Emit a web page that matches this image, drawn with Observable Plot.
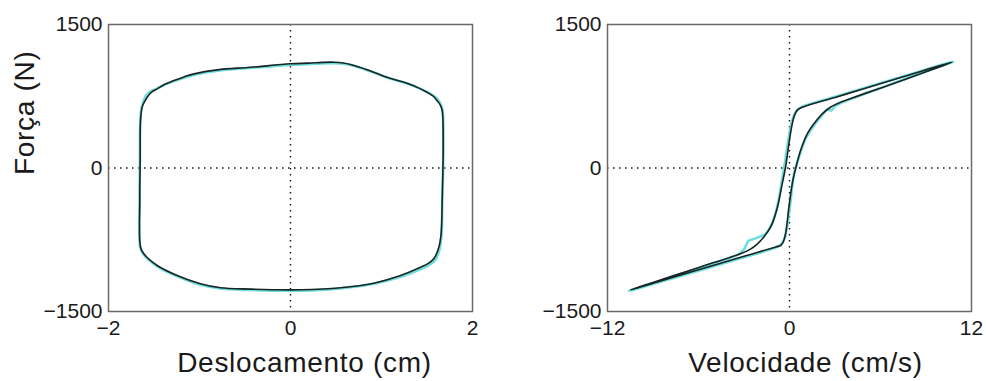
<!DOCTYPE html>
<html><head><meta charset="utf-8">
<script src="https://cdn.jsdelivr.net/npm/d3@7"></script>
<script src="https://cdn.jsdelivr.net/npm/@observablehq/plot@0.6"></script>
<style>
body{margin:0;background:#fff}
#wrap{display:flex;width:986px;height:381px}
</style>
</head><body><div id="wrap"></div>
<script>
// Tick labels and axis labels
const dispTicks = [-2, 0, 2];
const velTicks = [-12, 0, 12];
const forceTicks = [-1500, 0, 1500];
const dispLabel = "Deslocamento (cm)";
const velLabel = "Velocidade (cm/s)";
const forceLabel = "Força (N)";

// Left panel: force vs displacement (model, black)
const dispModel = [-1.656, -1.652, -1.648, -1.63, -1.60, -1.575, -1.53, -1.465, -1.38, -1.28, -1.17, -1.06, -0.806, -0.44, 0, 0.2, 0.35, 0.476, 0.58, 0.66, 0.75, 0.84, 0.95, 1.06, 1.17, 1.28, 1.40, 1.50, 1.57, 1.61, 1.645, 1.667, 1.678, 1.675, 1.667, 1.655, 1.63, 1.575, 1.51, 1.43, 1.21, 0.915, 0.55, 0.11, -0.2, -0.44, -0.77, -0.99, -1.245, -1.465, -1.612, -1.648];
const forceDispModel = [-340, 78, 500, 636, 700, 740, 790, 827, 875, 914, 952, 984, 1026, 1053, 1089, 1096, 1104, 1106, 1098, 1082, 1055, 1026, 988, 949, 917, 886, 840, 792, 750, 705, 660, 601, 287, -20, -340, -688, -828, -949, -1000, -1037, -1124, -1204, -1252, -1273, -1272, -1266, -1252, -1210, -1124, -1019, -897, -828];
// Left panel: measured (cyan)
const dispMeas = [-1.66, -1.655, -1.65, -1.635, -1.61, -1.585, -1.54, -1.47, -1.38, -1.28, -1.17, -1.05, -0.8, -0.44, 0, 0.2, 0.35, 0.48, 0.58, 0.66, 0.76, 0.85, 0.96, 1.07, 1.18, 1.29, 1.41, 1.52, 1.59, 1.63, 1.655, 1.672, 1.68, 1.676, 1.668, 1.66, 1.64, 1.59, 1.52, 1.44, 1.22, 0.92, 0.55, 0.11, -0.2, -0.44, -0.77, -1.0, -1.25, -1.47, -1.615, -1.65];
const forceDispMeas = [-340, 78, 500, 640, 712, 760, 800, 830, 872, 908, 944, 975, 1016, 1045, 1078, 1086, 1094, 1096, 1090, 1076, 1050, 1020, 982, 944, 912, 880, 835, 785, 742, 700, 655, 600, 287, -20, -340, -690, -840, -965, -1015, -1055, -1135, -1210, -1258, -1282, -1282, -1276, -1260, -1218, -1130, -1025, -905, -835];

// Right panel: force vs velocity (model, black)
const velModel = [10.72, 9, 7, 5, 3.9, 3.36, 3.0, 2.7, 2.16, 1.61, 1.17, 0.73, 0.4, 0.18, -0.04, -0.26, -0.42, -0.59, -0.9, -3, -6, -8.5, -10.48, -9, -7, -5, -3.23, -2.6, -2.13, -1.69, -1.25, -0.81, -0.48, -0.26, -0.04, 0.18, 0.35, 0.51, 0.84, 3, 5, 7.5];
const forceVelModel = [1106, 1005, 890, 780, 718, 688, 662, 635, 566, 462, 357, 183, -8, -165, -410, -688, -775, -810, -825, -923, -1063, -1180, -1273, -1196, -1092, -989, -897, -850, -795, -720, -619, -420, -165, 8, 253, 462, 560, 605, 635, 738, 833, 953];
// Right panel: measured (cyan)
const velMeas = [10.8, 9, 7, 5, 4.0, 3.4, 3.0, 2.75, 2.5, 2.2, 1.9, 1.5, 1.05, 0.62, 0.3, 0.08, -0.14, -0.36, -0.6, -1.0, -3, -6, -8.5, -10.6, -9, -7, -5, -3.4, -3.0, -2.7, -2.4, -2.0, -1.6, -1.2, -0.85, -0.55, -0.32, -0.1, 0.12, 0.35, 0.6, 1.0, 1.8, 3, 5, 7.5];
const forceVelMeas = [1112, 1010, 893, 778, 718, 680, 645, 600, 615, 560, 505, 420, 300, 110, -60, -330, -600, -750, -805, -838, -933, -1075, -1190, -1285, -1205, -1100, -995, -905, -850, -760, -745, -720, -690, -600, -430, -180, 40, 270, 460, 565, 618, 652, 690, 745, 840, 958];

const FONT = "'Liberation Sans', Arial, Helvetica, sans-serif";

function panel({xm, ym, xc, yc, xDomain, xTicks, xLabel, yLabel, ml, mr, labelDx}) {
  const model = xm.map((x, i) => ({x, y: ym[i]}));
  const meas = xc.map((x, i) => ({x, y: yc[i]}));
  const marks = [
    Plot.ruleX([0], {stroke: "#111", strokeWidth: 1.4, strokeDasharray: "1.5,4.5"}),
    Plot.ruleY([0], {stroke: "#111", strokeWidth: 1.4, strokeDasharray: "1.5,4.5"}),
    Plot.line(meas, {x: "x", y: "y", curve: "catmull-rom-closed", stroke: "#55d8d6", strokeWidth: 2.6, strokeOpacity: 0.85}),
    Plot.line(model, {x: "x", y: "y", curve: "catmull-rom-closed", stroke: "#1a2424", strokeWidth: 1.6}),
    Plot.frame({stroke: "#6a6a6a", strokeWidth: 1.5}),
    Plot.axisX(xTicks, {tickSize: 0, tickPadding: 9, label: null, tickFormat: "d", fill: "#1a1a1a"}),
    Plot.axisY(forceTicks, {tickSize: 0, tickPadding: 6, label: null, tickFormat: "d", fill: "#1a1a1a"}),
    Plot.text([xLabel], {frameAnchor: "bottom", dy: 60, dx: labelDx, lineAnchor: "bottom", fontSize: 28, fill: "#1a1a1a", text: d => d})
  ];
  if (yLabel) marks.push(Plot.text([yLabel], {frameAnchor: "left", rotate: -90, dx: 25 - ml, dy: 7, fontSize: 28, fill: "#1a1a1a", text: d => d}));
  const svg = Plot.plot({
    width: 493, height: 381,
    marginLeft: ml, marginRight: mr, marginTop: 24, marginBottom: 70,
    x: {domain: xDomain},
    y: {domain: [-1500, 1500]},
    style: {fontFamily: FONT, fontSize: "21px", overflow: "visible", background: "white"},
    marks
  });
  svg.querySelectorAll('g[aria-label="text"] text').forEach(t => t.setAttribute("letter-spacing", "0.7"));
  return svg;
}

const wrap = document.getElementById("wrap");
wrap.append(panel({xm: dispModel, ym: forceDispModel, xc: dispMeas, yc: forceDispMeas, xDomain: [-2, 2], xTicks: dispTicks, xLabel: dispLabel, yLabel: forceLabel, ml: 108, mr: 21, labelDx: 14}));
wrap.append(panel({xm: velModel, ym: forceVelModel, xc: velMeas, yc: forceVelMeas, xDomain: [-12, 12], xTicks: velTicks, xLabel: velLabel, yLabel: null, ml: 114, mr: 15, labelDx: 16}));
</script>
</body></html>
